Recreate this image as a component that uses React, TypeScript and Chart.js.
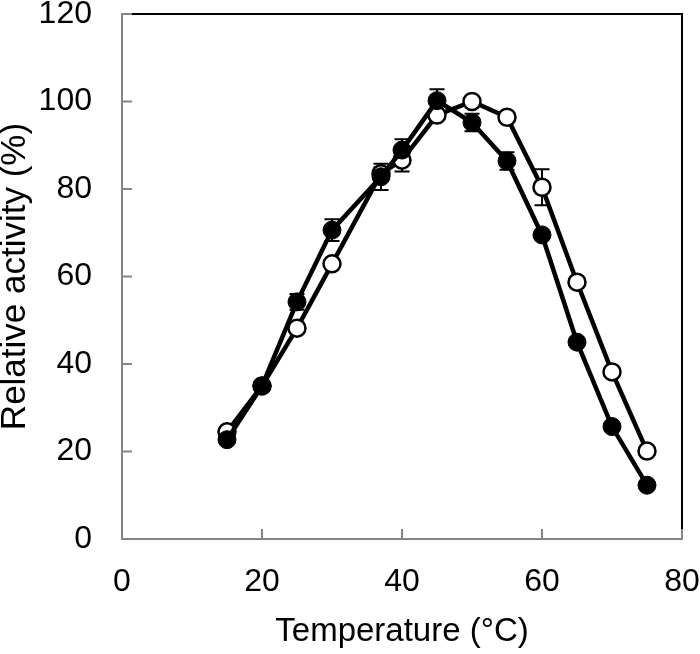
import React, { useEffect, useRef } from "react";
import { Chart, registerables } from "chart.js";

Chart.register(...registerables);

const temperatures = [15, 20, 25, 30, 37, 40, 45, 50, 55, 60, 65, 70, 75];
const filledActivity = [22.7, 35.0, 54.2, 70.6, 82.8, 88.9, 100.2, 95.2, 86.4, 69.5, 45.0, 25.7, 12.3];
const filledError = [0.5, 0.8, 1.8, 2.5, 3.0, 2.5, 2.6, 2.0, 2.0, 1.0, 0.8, 0.8, 0.5];
const openActivity = [24.5, 35.0, 48.2, 62.9, 83.5, 86.6, 96.9, 100.0, 96.4, 80.4, 58.7, 38.2, 20.1];
const openError = [0.5, 0.8, 1.0, 1.0, 1.5, 2.6, 1.0, 0.8, 0.8, 4.1, 1.0, 0.8, 0.8];
const xTicks = [0, 20, 40, 60, 80];
const yTicks = [0, 20, 40, 60, 80, 100, 120];

const AXIS_GRAY = "#858585";
const FONT = "'Liberation Sans', Arial, sans-serif";

const framePlugin = {
  id: "frame",
  beforeDatasetsDraw(chart: any) {
    const { ctx, chartArea: a, scales } = chart;
    const xs = scales.x;
    const ys = scales.y;
    ctx.save();
    ctx.lineWidth = 2;
    ctx.strokeStyle = "#000";
    ctx.beginPath();
    ctx.moveTo(a.left, a.top);
    ctx.lineTo(a.right, a.top);
    ctx.lineTo(a.right, a.bottom);
    ctx.stroke();
    ctx.strokeStyle = AXIS_GRAY;
    ctx.beginPath();
    xTicks.forEach((v) => {
      const px = xs.getPixelForValue(v);
      ctx.moveTo(px, a.bottom);
      ctx.lineTo(px, a.bottom - 10);
    });
    yTicks.forEach((v) => {
      const py = ys.getPixelForValue(v);
      ctx.moveTo(a.left, py);
      ctx.lineTo(a.left + 10, py);
    });
    ctx.stroke();
    ctx.restore();
  },
};

const errorBarPlugin = {
  id: "errorBars",
  beforeDatasetsDraw(chart: any) {
    const { ctx, scales } = chart;
    const xs = scales.x;
    const ys = scales.y;
    ctx.save();
    ctx.strokeStyle = "#000";
    ctx.lineWidth = 2;
    chart.data.datasets.forEach((ds: any) => {
      const errs: number[] = ds.errors;
      if (!errs) return;
      ds.data.forEach((p: any, i: number) => {
        const e = errs[i];
        if (!e) return;
        const x = xs.getPixelForValue(p.x);
        const yTop = ys.getPixelForValue(p.y + e);
        const yBot = ys.getPixelForValue(p.y - e);
        ctx.beginPath();
        ctx.moveTo(x, yBot);
        ctx.lineTo(x, yTop);
        ctx.moveTo(x - 7.5, yTop);
        ctx.lineTo(x + 7.5, yTop);
        ctx.moveTo(x - 7.5, yBot);
        ctx.lineTo(x + 7.5, yBot);
        ctx.stroke();
      });
    });
    ctx.restore();
  },
};

export default function App() {
  const canvasRef = useRef<HTMLCanvasElement | null>(null);

  useEffect(() => {
    if (!canvasRef.current) return;
    const filledPoints = temperatures.map((t, i) => ({ x: t, y: filledActivity[i] }));
    const openPoints = temperatures.map((t, i) => ({ x: t, y: openActivity[i] }));

    const chart = new Chart(canvasRef.current, {
      type: "line",
      data: {
        datasets: [
          {
            label: "filled",
            data: filledPoints,
            errors: filledError,
            borderColor: "#000",
            backgroundColor: "#000",
            borderWidth: 4.5,
            pointRadius: 9,
            pointBorderWidth: 1,
            pointBackgroundColor: "#000",
            pointBorderColor: "#000",
            tension: 0,
          } as any,
          {
            label: "open",
            data: openPoints,
            errors: openError,
            borderColor: "#000",
            backgroundColor: "#fff",
            borderWidth: 4.5,
            pointRadius: 8.5,
            pointBorderWidth: 2.5,
            pointBackgroundColor: "#fff",
            pointBorderColor: "#000",
            tension: 0,
          } as any,
        ],
      },
      options: {
        animation: false,
        responsive: false,
        layout: { padding: { top: 14, right: 18, left: 0, bottom: 0 } },
        plugins: {
          legend: { display: false },
          tooltip: { enabled: false },
        },
        scales: {
          x: {
            type: "linear",
            min: 0,
            max: 80,
            afterFit: (s: any) => {
              s.height = 115;
              s.paddingLeft = 0;
              s.paddingRight = 0;
            },
            afterBuildTicks: (s: any) => {
              s.ticks = xTicks.map((v) => ({ value: v }));
            },
            ticks: {
              autoSkip: false,
              maxRotation: 0,
              padding: 24,
              color: "#000",
              font: { family: FONT, size: 32 },
            },
            grid: { display: false, drawTicks: false },
            border: { display: true, color: AXIS_GRAY, width: 2 },
            title: {
              display: true,
              text: "Temperature (°C)",
              color: "#000",
              font: { family: FONT, size: 33, lineHeight: 1.2 },
              padding: { top: 0, bottom: 2 },
            },
          },
          y: {
            type: "linear",
            min: 0,
            max: 120,
            afterFit: (s: any) => {
              s.width = 122;
              s.paddingTop = 0;
              s.paddingBottom = 0;
            },
            afterBuildTicks: (s: any) => {
              s.ticks = yTicks.map((v) => ({ value: v }));
            },
            ticks: {
              autoSkip: false,
              padding: 30,
              color: "#000",
              font: { family: FONT, size: 32 },
            },
            grid: { display: false, drawTicks: false },
            border: { display: true, color: AXIS_GRAY, width: 2 },
            title: {
              display: true,
              text: "Relative activity (%)",
              color: "#000",
              font: { family: FONT, size: 35, lineHeight: 0.9 },
              padding: { top: 0, bottom: 0 },
            },
          },
        },
      } as any,
      plugins: [framePlugin, errorBarPlugin],
    });

    return () => chart.destroy();
  }, []);

  return (
    <div style={{ position: "absolute", left: 0, top: 0, width: 700, height: 654 }}>
      <canvas ref={canvasRef} width={700} height={654} />
    </div>
  );
}
